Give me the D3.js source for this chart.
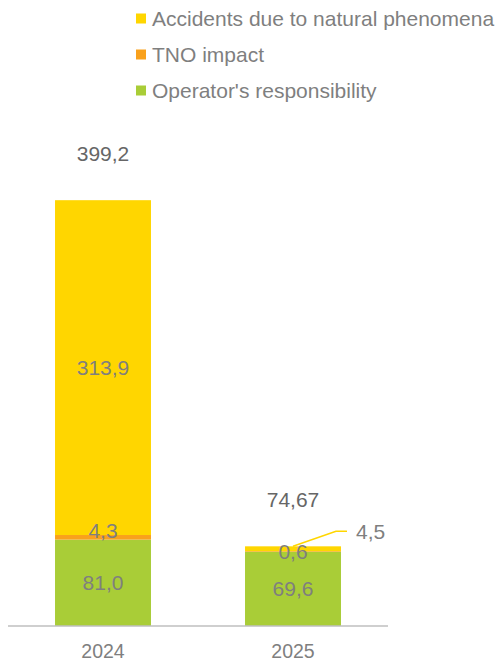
<!DOCTYPE html>
<html>
<head>
<meta charset="utf-8">
<script src="https://cdn.jsdelivr.net/npm/d3@7"></script>
<style>
  html, body { margin: 0; padding: 0; background: #ffffff; }
  svg { display: block; font-family: "Liberation Sans", Arial, sans-serif; }
</style>
</head>
<body>
<svg id="chart" width="502" height="664"></svg>
<script>
// Categories (years) and stacked series values
const years = ["2024", "2025"];
const operatorResp = [81.0, 69.6];
const tnoImpact = [4.3, 0.6];
const naturalAccidents = [313.9, 4.5];
const totals = ["399,2", "74,67"];

const seriesNames = ["Operator's responsibility", "TNO impact", "Accidents due to natural phenomena"];
const seriesColors = ["#a9cd37", "#f9a11c", "#ffd600"];
const legendOrder = [2, 1, 0];

const fmt = v => v.toFixed(1).replace(".", ",");

const svg = d3.select("#chart");

const rows = years.map((yr, i) => ({
  year: yr,
  s0: operatorResp[i],
  s1: tnoImpact[i],
  s2: naturalAccidents[i]
}));

const stack = d3.stack().keys(["s0", "s1", "s2"]);
const layers = stack(rows);

const x = d3.scaleBand()
  .domain(years)
  .range([8, 388])
  .paddingInner(0.495)
  .paddingOuter(0.2475);

const y = d3.scaleLinear()
  .domain([0, 450])
  .range([626, 146]);

// Stacked bars
const layerG = svg.append("g")
  .selectAll("g")
  .data(layers)
  .join("g")
  .attr("fill", (d, i) => seriesColors[i]);

layerG.selectAll("rect")
  .data(d => d)
  .join("rect")
  .attr("x", d => x(d.data.year))
  .attr("y", d => y(d[1]))
  .attr("width", x.bandwidth())
  .attr("height", d => y(d[0]) - y(d[1]));

// Category axis
const axis = svg.append("g")
  .attr("transform", "translate(0,626)")
  .call(d3.axisBottom(x).tickSize(0).tickPadding(18));
axis.select(".domain")
  .attr("stroke", "#bfbfbf")
  .attr("stroke-width", 1.6)
  .attr("d", "M8,0H388");
axis.selectAll("text")
  .attr("font-size", "19.5px")
  .attr("font-family", "'Liberation Sans', Arial, sans-serif")
  .attr("fill", "#7f7f7f");

// Segment value labels
const labelG = svg.append("g")
  .attr("font-size", "21px")
  .attr("fill", "#7f7f7f")
  .attr("text-anchor", "middle");

layers.forEach((layer, si) => {
  layer.forEach((d, ci) => {
    const v = d[1] - d[0];
    const cx = x(d.data.year) + x.bandwidth() / 2;
    const cy = (y(d[0]) + y(d[1])) / 2;
    if (si === 2 && ci === 1) {
      // thin top segment: callout with leader line
      const y0 = y(d[1]);
      const bx = x(d.data.year) + x.bandwidth() - 5;
      svg.append("polyline")
        .attr("points", [[cx, y0], [bx, y0 - 15], [bx + 11, y0 - 15]].map(p => p.join(",")).join(" "))
        .attr("fill", "none")
        .attr("stroke", seriesColors[2])
        .attr("stroke-width", 1.6);
      labelG.append("text")
        .attr("x", bx + 20)
        .attr("y", y0 - 15)
        .attr("dy", "0.35em")
        .attr("text-anchor", "start")
        .text(fmt(v));
      return;
    }
    const nudge = (si === 1 && ci === 0) ? -7 : 0;
    labelG.append("text")
      .attr("x", cx)
      .attr("y", cy + nudge)
      .attr("dy", "0.35em")
      .text(fmt(v));
  });
});

// Totals above bars
svg.append("g")
  .attr("font-size", "21px")
  .attr("fill", "#666666")
  .attr("text-anchor", "middle")
  .selectAll("text")
  .data(rows)
  .join("text")
  .attr("x", d => x(d.year) + x.bandwidth() / 2)
  .attr("y", d => y(d.s0 + d.s1 + d.s2) - 39)
  .text((d, i) => totals[i]);

// Legend
const legend = svg.append("g")
  .selectAll("g")
  .data(legendOrder)
  .join("g")
  .attr("transform", (d, i) => `translate(136,${13.5 + i * 36})`);
legend.append("rect")
  .attr("width", 10)
  .attr("height", 10)
  .attr("fill", d => seriesColors[d]);
legend.append("text")
  .attr("x", 16)
  .attr("y", 12)
  .attr("font-size", "21px")
  .attr("fill", "#7f7f7f")
  .text(d => seriesNames[d]);
</script>
</body>
</html>
